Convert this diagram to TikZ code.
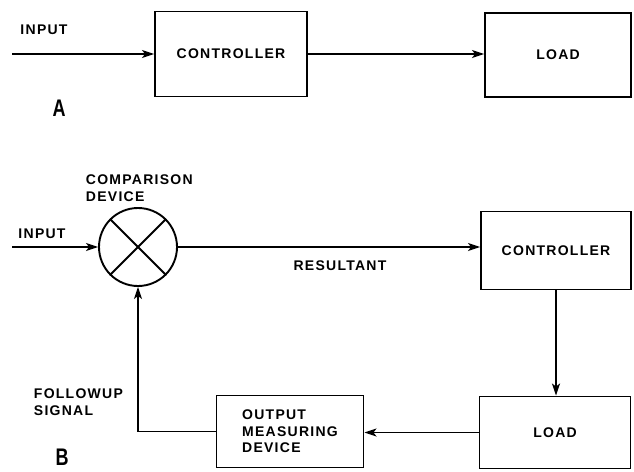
\documentclass[tikz,border=0pt]{standalone}
\usepackage{fontspec}
\setmainfont{Liberation Sans}
\newfontfamily\diagfont[LetterSpace=9]{Liberation Sans}
\usetikzlibrary{arrows.meta}

\begin{document}
\begin{tikzpicture}[x=1pt, y=-1pt, line width=1.9pt,
  >={Stealth[length=12pt, width=8pt, inset=3pt]},
  txt/.style={font=\diagfont\bfseries\fontsize{14}{16.5}\selectfont, inner sep=0pt},
  block/.style={draw, txt, align=center},
  part/.style={font=\bfseries\fontsize{24}{24}\selectfont, xscale=0.75, inner sep=0pt}]
  \useasboundingbox (0,0) rectangle (634,471);

  % A: open loop
  \node[block, minimum width=152pt, minimum height=85pt] (ctrlA) at (231,54) {CONTROLLER};
  \node[block, minimum width=146pt, minimum height=84pt] (loadA) at (558,55) {LOAD};
  \coordinate (inA) at (12,54);
  \draw[->] (inA) -- (ctrlA.west);
  \draw[->] (ctrlA.east) -- (ctrlA.east -| loadA.west);
  \node[txt] (inputA) at (44,30) {INPUT};
  \node[part] (partA) at (59,108) {A};

  % B: closed loop
  \node[draw, circle, minimum size=78pt, inner sep=0pt] (comp) at (138,247) {};
  \draw (comp.45) -- (comp.225);
  \draw (comp.135) -- (comp.315);
  \node[txt, anchor=west, align=left] (compLbl) at (85,188) {COMPARISON\\DEVICE};
  \node[block, minimum width=150pt, minimum height=78pt] (ctrlB) at (556,250.5) {CONTROLLER};
  \node[block, minimum width=151pt, minimum height=72pt] (loadB) at (555,432.5) {LOAD};
  \node[block, align=left, minimum width=147pt, minimum height=72pt] (omd) at (290,431.5) {OUTPUT\\MEASURING\\DEVICE};
  \coordinate (inB) at (12,247);
  \draw[->] (inB) -- (comp.west);
  \node[txt] (inputB) at (42,234) {INPUT};
  \draw[->] (comp.east) -- (comp.east -| ctrlB.west);
  \node[txt] (result) at (340,266) {RESULTANT};
  \draw[->] (ctrlB.south) -- (ctrlB.south |- loadB.north);
  \draw[->] (loadB.west) -- (loadB.west -| omd.east);
  \draw[->] (omd.west) -| (comp.south);
  \node[txt, anchor=west, align=left] (follow) at (33,402) {FOLLOWUP\\SIGNAL};
  \node[part] (partB) at (62,457) {B};
\end{tikzpicture}
\end{document}
